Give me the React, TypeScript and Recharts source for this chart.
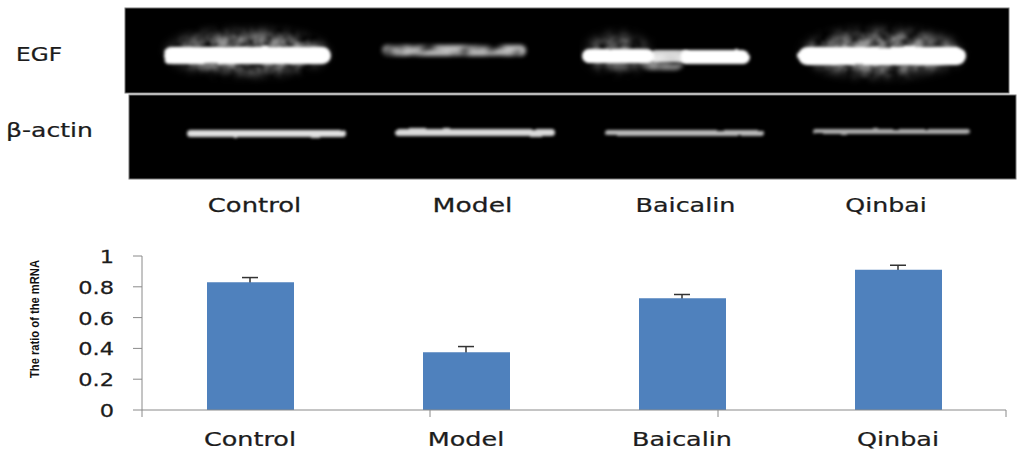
import React from 'react';
import { ComposedChart, Bar, Line, XAxis, YAxis, ErrorBar, Label } from 'recharts';

const categories = ['Control', 'Model', 'Baicalin', 'Qinbai'];
const ratios = [0.83, 0.375, 0.725, 0.91];
const errors = [0.03, 0.037, 0.025, 0.03];
const yTicks = [0, 0.2, 0.4, 0.6, 0.8, 1];
const edgeTicks = [0, 1, 2, 3, 4];

const tableData = categories.map((name, i) => ({ name, ratio: ratios[i], err: [0.02, errors[i]] }));

const AXIS_COLOR = '#8a8a8a';
const TEXT_COLOR = '#1c1c1c';
const FONT = '"DejaVu Sans", sans-serif';

// the original text is stretched sideways, so scale it rather than just making it bigger
function WideText({ x, y, size, sx, anchor = 'middle', children }: any) {
  return (
    <text
      transform={`translate(${x},${y}) scale(${sx},1)`}
      textAnchor={anchor}
      fontFamily={FONT}
      fontSize={size}
      fill={TEXT_COLOR}
      stroke={TEXT_COLOR}
      strokeWidth={0.25}
    >
      {children}
    </text>
  );
}

function CategoryTick({ x, y, payload }: any) {
  return <WideText x={x} y={y + 27} size={19} sx={1.34}>{payload.value}</WideText>;
}

function ValueTick({ x, y, payload }: any) {
  return <WideText x={x} y={y + 7} size={18} sx={1.25} anchor="end">{String(payload.value)}</WideText>;
}

function NoLabel() {
  return <g />;
}

function AxisTitle() {
  return (
    <text
      transform="translate(39,319) rotate(-90)"
      textAnchor="middle"
      fontFamily='"Liberation Sans Narrow", "Liberation Sans", sans-serif'
      fontWeight="bold"
      fontSize={13}
      fill="#111"
      textLength={118}
      lengthAdjust="spacingAndGlyphs"
    >
      The ratio of the mRNA
    </text>
  );
}

// gel bands: one rough bar each plus a faint noisy haze around it
function Band({ x, y, w, h, level, haze = 0, filter = 'soft' }: any) {
  return (
    <g>
      {haze > 0 && (
        <ellipse cx={x + w / 2} cy={y + h / 2 - 3} rx={w / 2 - 6} ry={h + 3} fill="#fff" opacity={haze} filter="url(#haze)" />
      )}
      <rect x={x} y={y} width={w} height={h} rx={h / 2} fill="#fff" opacity={level} filter={`url(#${filter})`} />
    </g>
  );
}

function GelPanel() {
  return (
    <svg width={1024} height={230} style={{ position: 'absolute', left: 0, top: 0 }}>
      <defs>
        <filter id="soft" x="-10%" y="-100%" width="120%" height="300%">
          <feTurbulence type="fractalNoise" baseFrequency="0.04 0.08" numOctaves="2" seed="7" result="noise" />
          <feDisplacementMap in="SourceGraphic" in2="noise" scale="2.5" xChannelSelector="R" yChannelSelector="G" />
          <feGaussianBlur stdDeviation="1.6" />
        </filter>
        <filter id="blotchy" x="-10%" y="-100%" width="120%" height="300%">
          <feTurbulence type="fractalNoise" baseFrequency="0.05 0.1" numOctaves="2" seed="11" result="noise" />
          <feColorMatrix in="noise" type="matrix" values="0 0 0 0 1  0 0 0 0 1  0 0 0 0 1  2.6 0 0 0 -0.5" result="spots" />
          <feComposite in="SourceGraphic" in2="spots" operator="in" />
          <feGaussianBlur stdDeviation="2.2" />
        </filter>
        <filter id="haze" x="-15%" y="-50%" width="130%" height="200%">
          <feTurbulence type="fractalNoise" baseFrequency="0.07" numOctaves="3" seed="4" result="noise" />
          <feColorMatrix in="noise" type="matrix" values="0 0 0 0 1  0 0 0 0 1  0 0 0 0 1  2 0 0 0 -0.35" result="spots" />
          <feGaussianBlur in="SourceGraphic" stdDeviation="6" result="blurred" />
          <feComposite in="blurred" in2="spots" operator="in" />
          <feGaussianBlur stdDeviation="1.5" />
        </filter>
      </defs>

      <rect x={125} y={8} width={884} height={85} fill="#000" stroke="#777" strokeWidth={1} />
      <rect x={129} y={95} width={887} height={84} fill="#000" stroke="#777" strokeWidth={1} />

      <Band x={163} y={47} w={168} h={17} level={1} haze={0.6} />
      <Band x={382} y={45} w={144} h={11} level={0.75} filter="blotchy" />
      <Band x={582} y={49} w={72} h={14} level={1} haze={0.5} />
      <Band x={640} y={53} w={44} h={17} level={0.55} filter="blotchy" />
      <Band x={680} y={50} w={70} h={14} level={1} />
      <Band x={650} y={50} w={40} h={12} level={0.8} />
      <Band x={798} y={47} w={168} h={18} level={1} haze={0.6} />

      <Band x={187} y={130} w={159} h={7} level={0.88} />
      <Band x={395} y={129} w={160} h={7} level={0.85} />
      <Band x={605} y={130} w={159} h={6} level={0.72} />
      <Band x={813} y={129} w={157} h={5} level={0.68} />

      <WideText x={39} y={61} size={19} sx={1.22}>EGF</WideText>
      <WideText x={49.5} y={137} size={19} sx={1.32}>β-actin</WideText>
      <WideText x={254.5} y={212} size={19} sx={1.36}>Control</WideText>
      <WideText x={472.5} y={212} size={19} sx={1.4}>Model</WideText>
      <WideText x={685.5} y={212} size={19} sx={1.34}>Baicalin</WideText>
      <WideText x={886} y={212} size={19} sx={1.33}>Qinbai</WideText>
    </svg>
  );
}

export default function App() {
  return (
    <div style={{ position: 'absolute', left: 0, top: 0, width: 1024, height: 455, background: '#fff', overflow: 'hidden' }}>
      <GelPanel />
      <div style={{ position: 'absolute', left: 0, top: 0 }}>
        <ComposedChart
          width={1024}
          height={455}
          data={tableData}
          margin={{ top: 256, right: 18, bottom: 0, left: 0 }}
          barSize={87}
        >
          {/* separate numeric axis only for the tick marks between the groups */}
          <XAxis
            xAxisId="boundaries"
            type="number"
            domain={[0, 4]}
            ticks={edgeTicks}
            tick={<NoLabel />}
            height={1}
            tickSize={7}
            stroke={AXIS_COLOR}
          />
          <XAxis
            xAxisId="categories"
            dataKey="name"
            height={44}
            axisLine={false}
            tickLine={false}
            tick={<CategoryTick />}
            interval={0}
          />
          <YAxis
            width={142}
            domain={[0, 1]}
            ticks={yTicks}
            tickSize={9}
            tickMargin={19}
            stroke={AXIS_COLOR}
            tick={<ValueTick />}
            interval={0}
          >
            <Label content={<AxisTitle />} />
          </YAxis>
          {/* invisible line carries the whiskers so the bar can hide their lower half */}
          <Line xAxisId="categories" dataKey="ratio" stroke="none" dot={false} legendType="none" isAnimationActive={false}>
            <ErrorBar dataKey="err" width={8} stroke="#333" strokeWidth={1.5} isAnimationActive={false} zIndex={100} />
          </Line>
          <Bar xAxisId="categories" dataKey="ratio" fill="#4f81bd" isAnimationActive={false} />
        </ComposedChart>
      </div>
    </div>
  );
}
